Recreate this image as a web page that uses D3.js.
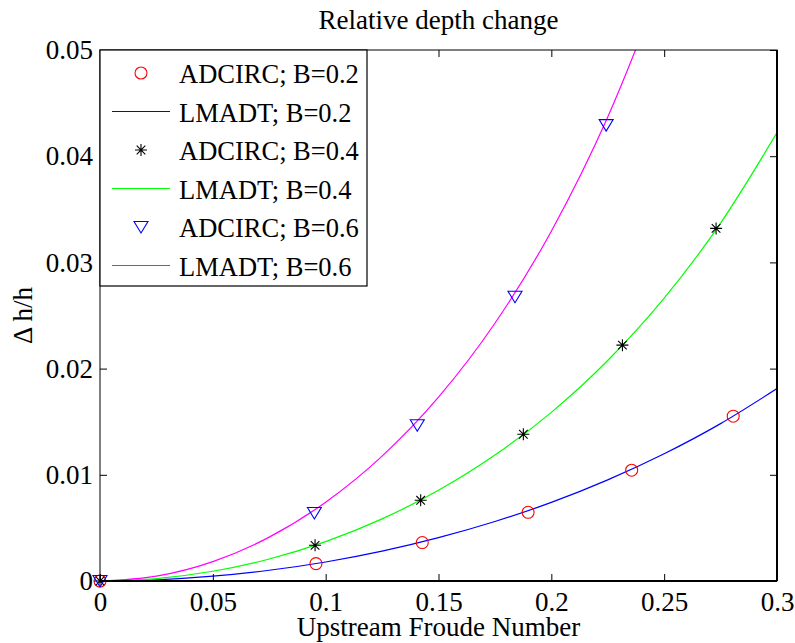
<!DOCTYPE html>
<html>
<head>
<meta charset="utf-8">
<script src="https://cdn.jsdelivr.net/npm/d3@7"></script>
<style>
  body { margin: 0; background: #fff; }
</style>
</head>
<body>
<div class="canvas"></div>
<script>
// ---- data ----
const xTicks = [0, 0.05, 0.1, 0.15, 0.2, 0.25, 0.3]
const xTickLabels = ['0', '0.05', '0.1', '0.15', '0.2', '0.25', '0.3']
const yTicks = [0, 0.01, 0.02, 0.03, 0.04, 0.05]
const yTickLabels = ['0', '0.01', '0.02', '0.03', '0.04', '0.05']

// ADCIRC points
const adcFr02 = [0, 0.0957, 0.1428, 0.1897, 0.2356, 0.2806]
const adcDh02 = [0, 0.00164, 0.00362, 0.00647, 0.01043, 0.01552]
const adcFr04 = [0, 0.0953, 0.1421, 0.1876, 0.2315, 0.273]
const adcDh04 = [0, 0.00336, 0.0076, 0.01382, 0.02221, 0.0332]
const adcFr06 = [0, 0.095, 0.1406, 0.1839, 0.2243]
const adcDh06 = [0, 0.00641, 0.01467, 0.02676, 0.04293]

// LMADT curves
const lmFr = [0, 0.025, 0.05, 0.075, 0.1, 0.125, 0.15, 0.175, 0.2, 0.225, 0.25, 0.275, 0.3]
const lmDh02 = [0, 0.00011, 0.00045, 0.00101, 0.00179, 0.00281, 0.00408, 0.0056, 0.0074, 0.00952, 0.01198, 0.01482, 0.01812]
const lmDh04 = [0, 0.00023, 0.00092, 0.00207, 0.00371, 0.00585, 0.00854, 0.01186, 0.01588, 0.02076, 0.02663, 0.0337, 0.04222]
const lmDh06 = [0, 0.00046, 0.00183, 0.00413, 0.00742, 0.01176, 0.01731, 0.02427, 0.03294, 0.04369, 0.05702, 0.072, 0.09]

const legendLabels = ['ADCIRC; B=0.2', 'LMADT; B=0.2', 'ADCIRC; B=0.4', 'LMADT; B=0.4', 'ADCIRC; B=0.6', 'LMADT; B=0.6']

// ---- layout ----
const W = 795, H = 643
const margin = { top: 50, right: 18, bottom: 62, left: 100 }
const gw = W - margin.left - margin.right
const gh = H - margin.top - margin.bottom
const serif = 'Liberation Serif'

const svg = d3.select('.canvas').append('svg')
    .attr('width', W).attr('height', H)
    .attr('font-family', serif)

const graph = svg.append('g')
    .attr('transform', `translate(${margin.left}, ${margin.top})`)

const x = d3.scaleLinear().domain([0, 0.3]).range([0, gw])
const y = d3.scaleLinear().domain([0, 0.05]).range([gh, 0])

svg.append('defs').append('clipPath').attr('id', 'plotclip')
    .append('rect').attr('width', gw).attr('height', gh)

// curves
const line = d3.line().x(d => x(d[0])).y(d => y(d[1])).curve(d3.curveMonotoneX)
const curves = [
    { v: lmDh02, c: '#0000ff' },
    { v: lmDh04, c: '#00ff00' },
    { v: lmDh06, c: '#ff00ff' }
]
const curveG = graph.append('g').attr('clip-path', 'url(#plotclip)')
curves.forEach(s => {
    curveG.append('path')
        .attr('d', line(lmFr.map((f, i) => [f, s.v[i]])))
        .attr('fill', 'none')
        .attr('stroke', s.c)
        .attr('stroke-width', 1.2)
})

// marker shapes
const circlePath = 'M6,0A6,6 0 1,1 -6,0A6,6 0 1,1 6,0Z'
const starPath = 'M-6,0L6,0M0,-6L0,6M-4.3,-4.3L4.3,4.3M-4.3,4.3L4.3,-4.3'
const triPath = 'M-7,-5.5L7,-5.5L0,6Z'
const markers = [
    { f: adcFr02, v: adcDh02, p: circlePath, c: '#ff0000' },
    { f: adcFr04, v: adcDh04, p: starPath, c: '#000000' },
    { f: adcFr06, v: adcDh06, p: triPath, c: '#0000ff' }
]
markers.forEach(m => {
    graph.append('g').selectAll('path')
        .data(m.f.map((f, i) => [f, m.v[i]]))
        .enter().append('path')
        .attr('d', m.p)
        .attr('transform', d => `translate(${x(d[0])}, ${y(d[1])})`)
        .attr('fill', 'none')
        .attr('stroke', m.c)
        .attr('stroke-width', 1.1)
})

// axes, ticks pointing inward
const xAxis = d3.axisBottom(x).tickValues(xTicks).tickFormat((d, i) => xTickLabels[i])
    .tickSizeInner(-7).tickSizeOuter(0).tickPadding(11)
const yAxis = d3.axisLeft(y).tickValues(yTicks).tickFormat((d, i) => yTickLabels[i])
    .tickSizeInner(-7).tickSizeOuter(0).tickPadding(7)
const xTop = d3.axisTop(x).tickValues(xTicks).tickFormat('').tickSizeInner(-7).tickSizeOuter(0)
const yRight = d3.axisRight(y).tickValues(yTicks).tickFormat('').tickSizeInner(-7).tickSizeOuter(0)

const styleAxis = g => {
    g.attr('font-family', serif).attr('font-size', 27)
    g.select('.domain').remove()
    g.selectAll('line').attr('stroke', '#000').attr('stroke-width', 1)
    g.selectAll('text').attr('fill', '#000')
}
graph.append('g').attr('transform', `translate(0, ${gh})`).call(xAxis).call(styleAxis)
graph.append('g').call(yAxis).call(styleAxis)
graph.append('g').call(xTop).call(styleAxis)
graph.append('g').attr('transform', `translate(${gw}, 0)`).call(yRight).call(styleAxis)

// box
graph.append('rect').attr('width', gw).attr('height', gh)
    .attr('fill', 'none').attr('stroke', '#000').attr('stroke-width', 1)
graph.append('line').attr('x1', 0).attr('x2', gw).attr('y1', gh).attr('y2', gh)
    .attr('stroke', '#000').attr('stroke-width', 2)
graph.append('line').attr('x1', gw).attr('x2', gw).attr('y1', 0).attr('y2', gh)
    .attr('stroke', '#000').attr('stroke-width', 2)

// titles
svg.append('text').attr('x', margin.left + gw / 2).attr('y', 29)
    .attr('text-anchor', 'middle').attr('font-size', 27).text('Relative depth change')
svg.append('text').attr('x', margin.left + gw / 2).attr('y', 636)
    .attr('text-anchor', 'middle').attr('font-size', 27).text('Upstream Froude Number')
svg.append('text').attr('transform', `translate(32, ${margin.top + gh / 2}) rotate(-90)`)
    .attr('text-anchor', 'middle').attr('font-size', 27).text('Δ h/h')

// legend
const legend = graph.append('g')
legend.append('rect').attr('x', 0).attr('y', 0).attr('width', 267).attr('height', 236)
    .attr('fill', '#fff').attr('stroke', '#000').attr('stroke-width', 1.2)
const legendItems = [
    { type: 'm', p: circlePath, c: '#ff0000' },
    { type: 'l', c: '#0000ff' },
    { type: 'm', p: starPath, c: '#000000' },
    { type: 'l', c: '#00ff00' },
    { type: 'm', p: triPath, c: '#0000ff' },
    { type: 'l', c: '#ff00ff' }
]
legendItems.forEach((it, i) => {
    const ry = 23 + i * 38.5
    if (it.type === 'm') {
        legend.append('path').attr('d', it.p)
            .attr('transform', `translate(41, ${ry})`)
            .attr('fill', 'none').attr('stroke', it.c).attr('stroke-width', 1.1)
    } else {
        legend.append('line').attr('x1', 12).attr('x2', 70).attr('y1', ry).attr('y2', ry)
            .attr('stroke', it.c).attr('stroke-width', 1.2)
    }
    legend.append('text').attr('x', 79).attr('y', ry + 10)
        .attr('font-size', 26.5).text(legendLabels[i])
})
</script>
</body>
</html>
